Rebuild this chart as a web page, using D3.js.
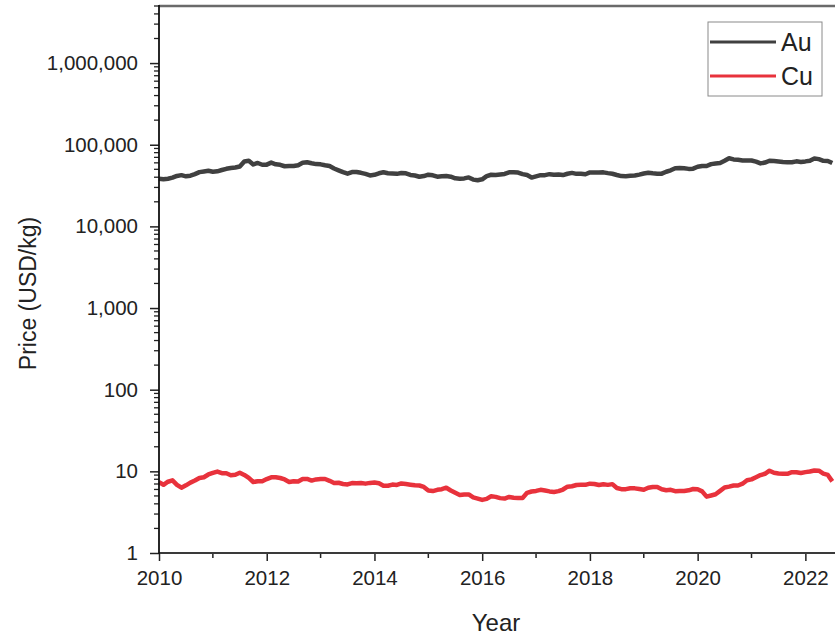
<!DOCTYPE html>
<html>
<head>
<meta charset="utf-8">
<script src="https://cdn.jsdelivr.net/npm/d3@7"></script>
<style>
  body { margin: 0; background: #fff; }
  text { font-family: "Liberation Sans", Arial, sans-serif; fill: #222; }
</style>
</head>
<body>
<svg id="chart" width="835" height="637"></svg>
<script>
// monthly prices, Jan 2010 .. Jul 2022, USD/kg
const startYear = 2010;

const auPrice = [
  38400, 37700, 38300, 39500, 41500, 42400, 41000, 41800, 43700, 46200, 47100, 47900,
  46700, 47200, 49000, 50700, 51900, 52600, 54100, 62500, 63500, 57300, 59800, 56800,
  57000, 60400, 57600, 56800, 54500, 54900, 54800, 56100, 60000, 60900, 59200, 57900,
  57500, 56000, 54800, 51200, 48600, 46200, 44200, 46300, 46400, 45300, 43900, 42100,
  42800, 44700, 46000, 44700, 44300, 44000, 45100, 44600, 42600, 42000, 40500, 41300,
  43000, 42200, 40600, 41200, 41300, 40600, 38800, 38400, 38700, 39800, 37400, 36700,
  37700, 41300, 42900, 42700, 43300, 43900, 46000, 46100, 45600, 43600, 42500, 39600,
  41000, 42400, 42400, 43600, 42900, 43300, 42500, 44100, 45200, 44000, 44100, 43500,
  45800, 45800, 45600, 45900, 44900, 44100, 42600, 41300, 41200, 41800, 42000, 43000,
  44400, 45400, 44700, 44200, 44200, 46700, 48600, 51600, 51900, 51400, 50600, 50900,
  53700, 54900, 54800, 57900, 59000, 59600, 63500, 68200, 66100, 65400, 64200, 63900,
  64200, 62200, 59100, 60500, 63600, 63100, 62200, 61400, 61100, 61100, 62600, 61600,
  62500, 63800, 68000, 66600, 63600, 63200, 59600
];

const cuPrice = [
  7.39, 6.85, 7.46, 7.75, 6.84, 6.30, 6.74, 7.28, 7.71, 8.29, 8.47, 9.15,
  9.56, 9.95, 9.50, 9.48, 8.96, 9.07, 9.62, 9.04, 8.30, 7.40, 7.58, 7.57,
  8.04, 8.44, 8.47, 8.29, 7.96, 7.42, 7.58, 7.52, 8.07, 8.06, 7.71, 7.97,
  8.05, 8.06, 7.65, 7.20, 7.25, 7.00, 6.91, 7.19, 7.16, 7.20, 7.07, 7.22,
  7.29, 7.15, 6.65, 6.67, 6.89, 6.82, 7.11, 7.00, 6.87, 6.74, 6.71, 6.45,
  5.83, 5.73, 5.94, 6.04, 6.30, 5.83, 5.46, 5.13, 5.22, 5.22, 4.80, 4.64,
  4.47, 4.60, 4.95, 4.87, 4.70, 4.64, 4.86, 4.75, 4.72, 4.73, 5.45, 5.66,
  5.76, 5.94, 5.82, 5.68, 5.60, 5.72, 5.99, 6.49, 6.57, 6.81, 6.83, 6.83,
  7.07, 7.01, 6.80, 6.94, 6.83, 6.97, 6.25, 6.05, 6.05, 6.22, 6.19, 6.07,
  5.94, 6.30, 6.44, 6.44, 6.03, 5.87, 5.94, 5.71, 5.76, 5.74, 5.86, 6.08,
  6.03, 5.69, 4.90, 5.06, 5.24, 5.76, 6.35, 6.50, 6.71, 6.71, 7.06, 7.77,
  7.97, 8.46, 9.01, 9.34, 10.18, 9.61, 9.43, 9.36, 9.33, 9.78, 9.77, 9.55,
  9.78, 9.94, 10.24, 10.18, 9.37, 9.03, 7.53
];

const seriesNames = ["Au", "Cu"];
const seriesColors = ["#404040", "#e8323c"];
const xTickYears = [2010, 2011, 2012, 2013, 2014, 2015, 2016, 2017, 2018, 2019, 2020, 2021, 2022];
const yTickLabels = [1, 10, 100, 1000, 10000, 100000, 1000000];

const svg = d3.select("#chart");
const plotLeft = 159, plotRight = 835, plotTop = 6, plotBottom = 553;

let x = d3.scaleLinear()
    .domain([2010, 2022.55])
    .range([plotLeft, plotRight]);
let y = d3.scaleLog()
    .domain([1, 5e6])
    .range([plotBottom, plotTop]);

// top frame line
svg.append("line")
    .attr("x1", plotLeft).attr("x2", plotRight)
    .attr("y1", plotTop).attr("y2", plotTop)
    .attr("stroke", "#6a6a6a")
    .attr("stroke-width", 2.5);

// series lines
let series = [auPrice, cuPrice].map((vals, k) => ({
    name: seriesNames[k],
    color: seriesColors[k],
    values: vals.map((v, i) => ({ t: startYear + i / 12, v: v }))
}));

let line = d3.line()
    .x(d => x(d.t))
    .y(d => y(d.v));

svg.selectAll("path.series")
    .data(series)
    .enter()
    .append("path")
    .attr("class", "series")
    .attr("fill", "none")
    .attr("stroke", d => d.color)
    .attr("stroke-width", 4.5)
    .attr("stroke-linejoin", "round")
    .attr("d", d => line(d.values));

// x axis
let xMajor = xTickYears.filter(d => d % 2 === 0);
let xMinor = xTickYears.filter(d => d % 2 === 1);

let xAxis = d3.axisBottom(x)
    .tickValues(xMajor)
    .tickFormat(d3.format("d"))
    .tickSize(8)
    .tickPadding(9);
let gx = svg.append("g")
    .attr("transform", `translate(0,${plotBottom})`)
    .call(xAxis);
gx.select(".domain").remove();
gx.selectAll(".tick line").attr("stroke", "#222").attr("stroke-width", 1.5);
gx.selectAll("text").style("font-size", "20.5px").attr("fill", "#2a2a2a");

svg.append("g")
    .attr("transform", `translate(0,${plotBottom})`)
    .selectAll("line")
    .data(xMinor)
    .enter()
    .append("line")
    .attr("x1", d => x(d)).attr("x2", d => x(d))
    .attr("y1", 0).attr("y2", 5)
    .attr("stroke", "#222")
    .attr("stroke-width", 1.5);

svg.append("line")
    .attr("x1", plotLeft).attr("x2", plotRight)
    .attr("y1", plotBottom).attr("y2", plotBottom)
    .attr("stroke", "#3a3a3a")
    .attr("stroke-width", 2.2);

// y axis
let yAxis = d3.axisLeft(y)
    .tickValues(yTickLabels)
    .tickFormat(d3.format(","))
    .tickSize(9)
    .tickPadding(12);
let gy = svg.append("g")
    .attr("transform", `translate(${plotLeft},0)`)
    .call(yAxis);
gy.select(".domain").remove();
gy.selectAll(".tick line").attr("stroke", "#222").attr("stroke-width", 1.5);
gy.selectAll("text").style("font-size", "20.5px").attr("fill", "#2a2a2a");

let yMinor = y.ticks().filter(d => !yTickLabels.includes(d));
svg.append("g")
    .attr("transform", `translate(${plotLeft},0)`)
    .selectAll("line")
    .data(yMinor)
    .enter()
    .append("line")
    .attr("x1", -5).attr("x2", 0)
    .attr("y1", d => y(d)).attr("y2", d => y(d))
    .attr("stroke", "#222")
    .attr("stroke-width", 1.3);

svg.append("line")
    .attr("x1", plotLeft).attr("x2", plotLeft)
    .attr("y1", plotTop - 1).attr("y2", plotBottom + 1)
    .attr("stroke", "#111")
    .attr("stroke-width", 1.8);

// axis titles
svg.append("text")
    .attr("x", 496)
    .attr("y", 631)
    .attr("text-anchor", "middle")
    .style("font-size", "24px")
    .text("Year");

svg.append("text")
    .attr("transform", `translate(36,${(plotTop + plotBottom) / 2 + 14}) rotate(-90)`)
    .attr("text-anchor", "middle")
    .style("font-size", "23px")
    .text("Price (USD/kg)");

// legend
let legend = svg.append("g").attr("transform", "translate(708,22)");
legend.append("rect")
    .attr("width", 114).attr("height", 74)
    .attr("fill", "#fff")
    .attr("stroke", "#8a8a8a")
    .attr("stroke-width", 1);
let items = legend.selectAll("g.item")
    .data(series)
    .enter()
    .append("g")
    .attr("class", "item")
    .attr("transform", (d, i) => `translate(0,${20 + i * 34})`);
items.append("line")
    .attr("x1", 2).attr("x2", 68)
    .attr("stroke", d => d.color)
    .attr("stroke-width", 3);
items.append("text")
    .attr("x", 73)
    .attr("y", 9)
    .style("font-size", "25px")
    .text(d => d.name);
</script>
</body>
</html>
